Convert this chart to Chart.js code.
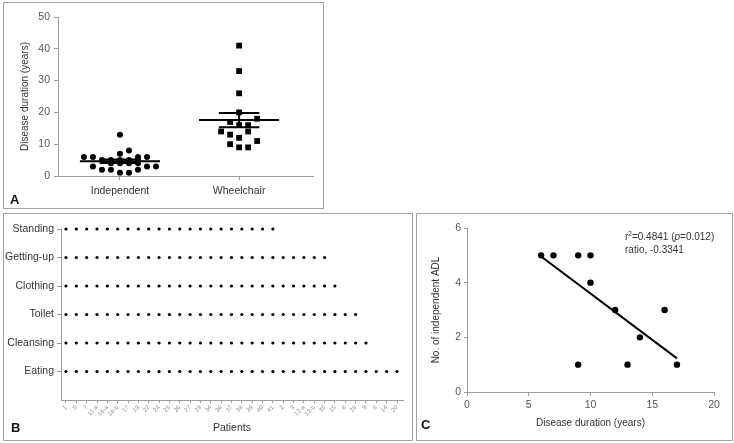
<!DOCTYPE html>
<html>
<head>
<meta charset="utf-8">
<script src="https://cdn.jsdelivr.net/npm/chart.js@4.4.1/dist/chart.umd.min.js"></script>
<style>
body { margin: 0; background: #fff; }
#page { position: relative; width: 734px; height: 443px; font-family: "Liberation Sans", Arial, sans-serif; }
canvas { position: absolute; left: 0; top: 0; }
.panel { position: absolute; border: 1px solid #a3a3a3; box-sizing: border-box; }
.tag { position: absolute; font-weight: bold; font-size: 13px; line-height: 13px; color: #111; }
</style>
</head>
<body>
<div id="page">
  <div class="panel" style="left:3px;top:2px;width:321px;height:207px"></div>
  <div class="panel" style="left:3px;top:213px;width:410px;height:228px"></div>
  <div class="panel" style="left:416px;top:213px;width:317px;height:228px"></div>
  <canvas id="chartA" width="734" height="443"></canvas>
  <canvas id="chartB" width="734" height="443"></canvas>
  <canvas id="chartC" width="734" height="443"></canvas>
  <div class="tag" style="left:10px;top:193px">A</div>
  <div class="tag" style="left:11px;top:421px">B</div>
  <div class="tag" style="left:421px;top:418px">C</div>
</div>
<script>
// Panel A - disease duration by group
const groupLabels = ['Independent', 'Wheelchair'];
const independentYears = [13, 8, 7, 6, 6, 6, 6, 5, 5, 5, 5, 5, 4, 4, 4, 4, 3, 3, 3, 2, 2, 2, 1, 1];
const independentCols  = [0, 1, 0, -4, -3, 2, 3, -2, -1, 0, 1, 2, -1, 0, 1, 2, -3, 3, 4, -2, -1, 2, 0, 1];
const wheelchairYears = [41, 33, 26, 20, 17, 18, 16, 16, 14, 14, 13, 12, 11, 10, 9, 9];
const wheelchairCols  = [0, 0, 0, 0, -1, 2, 0, 1, -2, 1, -1, 0, 2, -1, 0, 1];
const groupMeans = [4.6, 17.6];
const groupSem = [0.55, 2.25];

// Panel B - independent ADL per patient
const adlItems = ['Standing', 'Getting-up', 'Clothing', 'Toilet', 'Cleansing', 'Eating'];
const adlPatientCount = [21, 26, 27, 29, 30, 33];
const patientLabels = ['1', '5', '7', '11-a', '16-a', '16-b', '17', '19', '22', '24', '25', '26', '27', '29',
  '34', '36', '37', '38', '39', '40', '41', '2', '3', '12-a', '12-b', '35', '15', '6', '28', '9', '8', '14', '20'];

// Panel C - ADL vs disease duration
const durationYears = [6, 7, 9, 10, 10, 12, 16, 14, 9, 13, 17];
const adlScores = [5, 5, 5, 5, 4, 3, 3, 2, 1, 1, 1];
const fitLine = [[6, 4.96], [17, 1.23]];

const axisGray = '#9c9c9c';
const tickText = '#555';
const colStep = 0.0756;

function fixedWidth(w) { return s => { s.width = w; }; }
function fixedHeight(h) { return s => { s.height = h; }; }
function segment(x1, y1, x2, y2, width) {
    return {
        type: 'line',
        data: [{ x: x1, y: y1 }, { x: x2, y: y2 }],
        borderColor: '#000',
        borderWidth: width,
        pointRadius: 0,
        showLine: true
    };
}

// ---------- A ----------
const summaryLines = [];
groupMeans.forEach((m, g) => {
    summaryLines.push(segment(g - 0.336, m, g + 0.336, m, 2));
    summaryLines.push(segment(g - 0.17, m + groupSem[g], g + 0.17, m + groupSem[g], 2));
    summaryLines.push(segment(g - 0.17, m - groupSem[g], g + 0.17, m - groupSem[g], 2));
    summaryLines.push(segment(g, m - groupSem[g], g, m + groupSem[g], 2));
});

new Chart(document.getElementById('chartA'), {
    type: 'scatter',
    data: {
        datasets: [
            {
                data: independentYears.map((v, i) => ({ x: independentCols[i] * colStep, y: v })),
                pointStyle: 'circle', pointRadius: 3, backgroundColor: '#000', borderWidth: 0
            },
            {
                data: wheelchairYears.map((v, i) => ({ x: 1 + wheelchairCols[i] * colStep, y: v })),
                pointStyle: 'rect', pointRadius: 4.1, backgroundColor: '#000', borderWidth: 0
            },
            ...summaryLines
        ]
    },
    options: {
        responsive: false, animation: false, devicePixelRatio: 1,
        layout: { padding: { left: 18, top: 17, right: 421, bottom: 237 } },
        plugins: { legend: { display: false }, tooltip: { enabled: false } },
        scales: {
            x: {
                type: 'linear', min: -0.52, max: 1.62,
                afterBuildTicks: s => { s.ticks = [{ value: 0 }, { value: 1 }]; },
                afterFit: fixedHeight(30),
                grid: { drawOnChartArea: false, tickLength: 4, color: axisGray },
                border: { color: axisGray },
                ticks: { padding: 5, color: '#333', font: { size: 10.5 }, callback: v => groupLabels[v] }
            },
            y: {
                min: 0, max: 50,
                afterFit: fixedWidth(40),
                grid: { drawOnChartArea: false, tickLength: 4, color: axisGray },
                border: { color: axisGray },
                ticks: { stepSize: 10, padding: 4, color: tickText, font: { size: 10.5 } },
                title: { display: true, text: 'Disease duration (years)', color: '#333', font: { size: 10 }, padding: 1 }
            }
        }
    }
});

// ---------- B ----------
const adlDatasets = adlItems.map((name, row) => ({
    label: name,
    data: patientLabels.slice(0, adlPatientCount[row]).map((p, i) => ({ x: i, y: adlItems.length - row })),
    pointStyle: 'circle', pointRadius: 1.6, backgroundColor: '#000', borderWidth: 0,
    clip: false
}));

new Chart(document.getElementById('chartB'), {
    type: 'scatter',
    data: { datasets: adlDatasets },
    options: {
        responsive: false, animation: false, devicePixelRatio: 1,
        layout: { padding: { left: 3, top: 229, right: 331, bottom: 9 } },
        plugins: { legend: { display: false }, tooltip: { enabled: false } },
        scales: {
            x: {
                type: 'linear', min: -0.48, max: 32.58,
                afterBuildTicks: s => { s.ticks = patientLabels.map((p, i) => ({ value: i })); },
                afterFit: fixedHeight(34),
                grid: { drawOnChartArea: false, tickLength: 3, color: axisGray },
                border: { color: axisGray },
                ticks: {
                    autoSkip: false, minRotation: 45, maxRotation: 45, padding: 1,
                    color: '#8a8a8a', font: { size: 6 }, callback: v => patientLabels[v]
                },
                title: { display: true, text: 'Patients', color: '#333', font: { size: 10.5 }, padding: 0 }
            },
            y: {
                min: 0, max: 6,
                afterBuildTicks: s => { s.ticks = [1, 2, 3, 4, 5, 6].map(v => ({ value: v })); },
                afterFit: fixedWidth(58),
                grid: { drawOnChartArea: false, tickLength: 4, color: axisGray },
                border: { color: axisGray },
                ticks: { padding: 3, color: '#333', font: { size: 10.5 }, callback: v => adlItems[adlItems.length - v] }
            }
        }
    }
});

// ---------- C ----------
const statsLabel = {
    id: 'statsLabel',
    afterDatasetsDraw(chart) {
        const ctx = chart.ctx;
        const left = chart.chartArea.left + 158;
        const top = chart.chartArea.top + 9;
        ctx.save();
        ctx.fillStyle = '#333';
        ctx.textBaseline = 'middle';
        const parts = [
            ['r', '10px', 0], ['2', '6.5px', -3], ['=0.4841 (', '10px', 0],
            ['p', 'italic 10px', 0], ['=0.012)', '10px', 0]
        ];
        let x = left;
        parts.forEach(([t, f, dy]) => {
            ctx.font = f + ' "Liberation Sans", Arial, sans-serif';
            ctx.fillText(t, x, top + dy);
            x += ctx.measureText(t).width;
        });
        ctx.font = '10px "Liberation Sans", Arial, sans-serif';
        ctx.fillText('ratio, -0.3341', left, top + 13);
        ctx.restore();
    }
};

new Chart(document.getElementById('chartC'), {
    type: 'scatter',
    data: {
        datasets: [
            {
                data: durationYears.map((d, i) => ({ x: d, y: adlScores[i] })),
                pointStyle: 'circle', pointRadius: 3.2, backgroundColor: '#000', borderWidth: 0
            },
            segment(fitLine[0][0], fitLine[0][1], fitLine[1][0], fitLine[1][1], 2)
        ]
    },
    options: {
        responsive: false, animation: false, devicePixelRatio: 1,
        layout: { padding: { left: 429, top: 228, right: 20, bottom: 14 } },
        plugins: { legend: { display: false }, tooltip: { enabled: false } },
        scales: {
            x: {
                type: 'linear', min: 0, max: 20,
                afterFit: fixedHeight(37),
                grid: { drawOnChartArea: false, tickLength: 4, color: axisGray },
                border: { color: axisGray },
                ticks: { stepSize: 5, padding: 3, color: tickText, font: { size: 10.5 } },
                title: { display: true, text: 'Disease duration (years)', color: '#333', font: { size: 10 }, padding: 0 }
            },
            y: {
                min: 0, max: 6,
                afterFit: fixedWidth(38),
                grid: { drawOnChartArea: false, tickLength: 3, color: axisGray },
                border: { color: axisGray },
                ticks: { stepSize: 2, padding: 3, color: tickText, font: { size: 10.5 } },
                title: { display: true, text: 'No. of independent ADL', color: '#333', font: { size: 10 }, padding: 1 }
            }
        }
    },
    plugins: [statsLabel]
});
</script>
</body>
</html>
